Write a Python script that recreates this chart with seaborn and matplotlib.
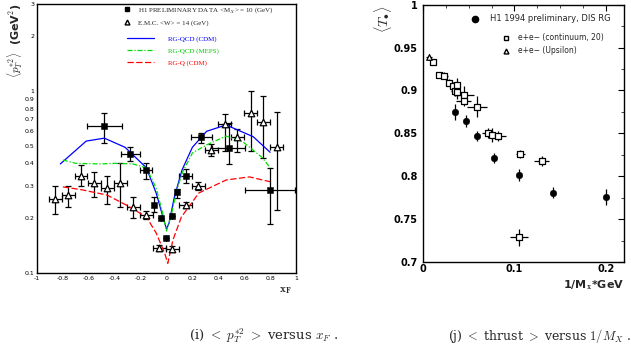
import numpy as np
import pandas as pd
import matplotlib
matplotlib.use('Agg')
import matplotlib.pyplot as plt
import seaborn as sns
from matplotlib.lines import Line2D
from matplotlib.ticker import FixedLocator, NullLocator, MultipleLocator, FixedFormatter

sns.set_theme(style='white')
plt.rcParams['font.family'] = ['DejaVu Sans']
plt.rcParams['mathtext.fontset'] = 'cm'

# ---- left panel: <pT*2> versus xF ----
h1_x = [-0.48, -0.28, -0.16, -0.093, -0.046, 0.0, 0.04, 0.085, 0.15, 0.27, 0.48, 0.80]
h1_y = [0.64, 0.45, 0.37, 0.236, 0.20, 0.156, 0.206, 0.279, 0.341, 0.559, 0.486, 0.286]
h1_xerr = [0.135, 0.075, 0.045, 0, 0, 0, 0, 0, 0.05, 0.08, 0.13, 0.195]
h1_ylo = [0.12, 0.04, 0.04, 0.02, 0, 0, 0, 0.02, 0.03, 0.04, 0.09, 0.10]
h1_yhi = [0.12, 0.04, 0.03, 0.025, 0, 0, 0, 0.01, 0.03, 0.03, 0.18, 0.09]

emc_x = [-0.857, -0.757, -0.66, -0.556, -0.456, -0.356, -0.255, -0.155, -0.054,
         0.046, 0.147, 0.247, 0.347, 0.448, 0.548, 0.649, 0.749, 0.85]
emc_y = [0.255, 0.268, 0.341, 0.312, 0.293, 0.312, 0.23, 0.208, 0.137,
         0.135, 0.236, 0.30, 0.474, 0.659, 0.559, 0.757, 0.676, 0.492]
emc_ylo = [0.045, 0.038, 0.041, 0.052, 0.053, 0.082, 0.03, 0.01, 0.005,
           0.005, 0.01, 0.015, 0.034, 0.19, 0.10, 0.29, 0.25, 0.27]
emc_yhi = [0.045, 0.032, 0.049, 0.048, 0.047, 0.088, 0.03, 0.01, 0.005,
           0.005, 0.01, 0.015, 0.036, 0.09, 0.06, 0.24, 0.26, 0.27]
emc_xerr = 0.05

cdm_x = [-0.82, -0.62, -0.48, -0.32, -0.155, -0.08, -0.02, 0.0, 0.02, 0.06, 0.12, 0.2, 0.31, 0.46, 0.67, 0.8]
cdm_y = [0.397, 0.53, 0.55, 0.49, 0.378, 0.275, 0.195, 0.174, 0.188, 0.26, 0.368, 0.49, 0.60, 0.65, 0.56, 0.46]
meps_x = [-0.8, -0.7, -0.52, -0.39, -0.26, -0.155, -0.08, -0.03, 0.0, 0.04, 0.08, 0.125, 0.2, 0.31, 0.46, 0.59, 0.74, 0.8]
meps_y = [0.417, 0.40, 0.397, 0.40, 0.397, 0.378, 0.293, 0.213, 0.17, 0.213, 0.286, 0.359, 0.456, 0.505, 0.565, 0.525, 0.43, 0.378]
rgq_x = [-0.8, -0.65, -0.46, -0.31, -0.155, -0.08, -0.015, 0.01, 0.05, 0.115, 0.25, 0.46, 0.64, 0.8]
rgq_y = [0.297, 0.286, 0.268, 0.236, 0.203, 0.166, 0.129, 0.113, 0.152, 0.203, 0.275, 0.324, 0.337, 0.317]

pt_ticks = [0.1, 0.2, 0.3, 0.4, 0.5, 0.6, 0.7, 0.8, 0.9, 1, 2, 3]
pt_labels = ['0.1', '0.2', '0.3', '0.4', '0.5', '0.6', '0.7', '0.8', '0.9', '1', '2', '3']
xf_ticks = [-1, -0.8, -0.6, -0.4, -0.2, 0, 0.2, 0.4, 0.6, 0.8, 1]
xf_labels = ['-1', '-0.8', '-0.6', '-0.4', '-0.2', '0', '0.2', '0.4', '0.6', '0.8', '1']

# ---- right panel: <thrust> versus 1/MX ----
dis_x = [0.0348, 0.0467, 0.0587, 0.0772, 0.1054, 0.142, 0.2]
dis_y = [0.875, 0.864, 0.847, 0.821, 0.8015, 0.781, 0.776]
dis_yerr = [0.009, 0.007, 0.006, 0.006, 0.007, 0.006, 0.009]

cont_x = [0.011, 0.018, 0.023, 0.028, 0.0326, 0.035, 0.037, 0.037, 0.0446, 0.0446,
          0.0587, 0.0707, 0.076, 0.0826, 0.1065, 0.130, 0.1054]
cont_y = [0.933, 0.918, 0.917, 0.909, 0.905, 0.899, 0.906, 0.898, 0.895, 0.888,
          0.881, 0.850, 0.848, 0.847, 0.826, 0.818, 0.729]
cont_xerr = [0.002, 0.003, 0.004, 0.003, 0.003, 0.004, 0.004, 0.004, 0.011, 0.008,
             0.011, 0.006, 0.005, 0.008, 0.005, 0.008, 0.010]
cont_yerr = [0.002, 0.002, 0.004, 0.004, 0.005, 0.006, 0.008, 0.008, 0.010, 0.006,
             0.012, 0.006, 0.008, 0.006, 0.005, 0.006, 0.010]

ups_x = [0.0065]
ups_y = [0.939]
ups_xerr = [0.003]
ups_yerr = [0.004]

thrust_ticks = [0.7, 0.75, 0.8, 0.85, 0.9, 0.95, 1.0]
thrust_labels = ['0.7', '0.75', '0.8', '0.85', '0.9', '0.95', '1']

GREEN = '#00e000'

fig = plt.figure(figsize=(6.31, 3.59), dpi=100)

# left axes
ax1 = fig.add_axes([0.0586, 0.2396, 0.4105, 0.7493])
ax1.errorbar(h1_x, h1_y, xerr=h1_xerr, yerr=[h1_ylo, h1_yhi], fmt='none',
             ecolor='black', elinewidth=0.9, capsize=2, capthick=0.9, zorder=2)
ax1.errorbar(emc_x, emc_y, xerr=emc_xerr, yerr=[emc_ylo, emc_yhi], fmt='none',
             ecolor='black', elinewidth=0.9, capsize=2, capthick=0.9, zorder=2)
sns.lineplot(x=cdm_x, y=cdm_y, color='blue', lw=0.9, sort=False, ax=ax1, zorder=3)
sns.lineplot(x=meps_x, y=meps_y, color=GREEN, lw=0.9, sort=False, ax=ax1, zorder=3,
             linestyle=(0, (4, 1.5, 1, 1.5)))
sns.lineplot(x=rgq_x, y=rgq_y, color='red', lw=0.9, sort=False, ax=ax1, zorder=3,
             linestyle=(0, (5, 2)))
sns.scatterplot(x=h1_x, y=h1_y, marker='s', color='black', edgecolor='black', s=22,
                ax=ax1, zorder=4)
sns.scatterplot(x=emc_x, y=emc_y, marker='^', color='white', edgecolor='black',
                linewidth=0.9, s=22, ax=ax1, zorder=4)

ax1.set_yscale('log')
ax1.set_xlim(-1, 1)
ax1.set_ylim(0.1, 3)
ax1.yaxis.set_major_locator(FixedLocator(pt_ticks))
ax1.yaxis.set_major_formatter(FixedFormatter(pt_labels))
ax1.yaxis.set_minor_locator(NullLocator())
ax1.xaxis.set_major_locator(FixedLocator(xf_ticks))
ax1.xaxis.set_major_formatter(FixedFormatter(xf_labels))
ax1.xaxis.set_minor_locator(MultipleLocator(0.05))
ax1.tick_params(axis='both', which='major', direction='in', length=4, width=0.8,
                labelsize=4.5, pad=2, colors='black')
ax1.tick_params(axis='x', which='minor', direction='in', length=2, width=0.6)
for sp in ax1.spines.values():
    sp.set_color('black')
    sp.set_linewidth(1.0)

leg1 = ax1.legend(handles=[Line2D([], [], marker='s', color='black', ls='none', markersize=3.5),
                           Line2D([], [], marker='^', color='black', mfc='white', ls='none', markersize=3.5)],
                  labels=['H1 PRELIMINARY DATA <M$_X$> = 10 (GeV)', 'E.M.C. <W> = 14 (GeV)'],
                  loc='upper left', bbox_to_anchor=(0.31, 1.005), frameon=False,
                  prop={'family': 'Liberation Serif', 'size': 5}, handletextpad=0.6,
                  labelspacing=0.6, borderaxespad=0)
ax1.add_artist(leg1)
ax1.legend(handles=[Line2D([], [], color='blue', lw=0.9),
                    Line2D([], [], color=GREEN, lw=0.9, ls=(0, (4, 1.5, 1, 1.5))),
                    Line2D([], [], color='red', lw=0.9, ls=(0, (5, 2)))],
           labels=['RG-QCD (CDM)', 'RG-QCD (MEPS)', 'RG-Q (CDM)'],
           loc='upper left', bbox_to_anchor=(0.335, 0.893), frameon=False,
           prop={'family': 'Liberation Serif', 'size': 5}, handlelength=3.9,
           handletextpad=2.0, labelspacing=0.85, borderaxespad=0,
           labelcolor=['blue', '#00cc00', 'red'])

fig.text(0.024, 0.99, r'$\langle p_T^{*2} \rangle$  (GeV$^2$)', rotation=90,
         ha='center', va='top', fontsize=8, fontweight='bold')
fig.text(0.452, 0.19, r'$\mathbf{x_F}$', ha='center', va='center', fontsize=8)

# right axes
ax2 = fig.add_axes([0.6704, 0.2702, 0.3185, 0.7167])
ax2.errorbar(dis_x, dis_y, yerr=dis_yerr, fmt='none', ecolor='black', elinewidth=0.9, zorder=2)
ax2.errorbar(cont_x, cont_y, xerr=cont_xerr, yerr=cont_yerr, fmt='none', ecolor='black',
             elinewidth=0.9, zorder=2)
ax2.errorbar(ups_x, ups_y, xerr=ups_xerr, yerr=ups_yerr, fmt='none', ecolor='black',
             elinewidth=0.9, zorder=2)
sns.scatterplot(x=dis_x, y=dis_y, marker='o', color='black', edgecolor='black', s=22,
                ax=ax2, zorder=4)
sns.scatterplot(x=cont_x, y=cont_y, marker='s', color='white', edgecolor='black',
                linewidth=0.9, s=14, ax=ax2, zorder=4)
sns.scatterplot(x=ups_x, y=ups_y, marker='^', color='white', edgecolor='black',
                linewidth=0.9, s=16, ax=ax2, zorder=4)

ax2.set_xlim(0, 0.22)
ax2.set_ylim(0.7, 1.0)
ax2.xaxis.set_major_locator(FixedLocator([0, 0.1, 0.2]))
ax2.xaxis.set_major_formatter(FixedFormatter(['0', '0.1', '0.2']))
ax2.xaxis.set_minor_locator(MultipleLocator(0.025))
ax2.yaxis.set_major_locator(FixedLocator(thrust_ticks))
ax2.yaxis.set_major_formatter(FixedFormatter(thrust_labels))
ax2.yaxis.set_minor_locator(MultipleLocator(0.025))
ax2.tick_params(axis='both', which='major', direction='in', length=4, width=0.8,
                labelsize=7, top=True, right=True, colors='black')
ax2.tick_params(axis='x', which='major', pad=1.5)
ax2.tick_params(axis='y', which='major', pad=4)
ax2.tick_params(axis='both', which='minor', direction='in', length=2.5, width=0.6,
                top=True, right=True)
for lab in ax2.get_xticklabels() + ax2.get_yticklabels():
    lab.set_fontweight('bold')
for sp in ax2.spines.values():
    sp.set_color('black')
    sp.set_linewidth(1.0)

leg3 = ax2.legend(handles=[Line2D([], [], marker='o', color='black', ls='none', markersize=4.5)],
                  labels=['H1 1994 preliminary, DIS RG'], loc='upper left',
                  bbox_to_anchor=(0.2, 0.975), frameon=False,
                  prop={'size': 6}, handletextpad=0.8, borderaxespad=0)
ax2.add_artist(leg3)
ax2.legend(handles=[Line2D([], [], marker='s', color='black', mfc='white', ls='none', markersize=3.5),
                    Line2D([], [], marker='^', color='black', mfc='white', ls='none', markersize=3.5)],
           labels=['e+e\u2212 (continuum, 20)', 'e+e\u2212 (Upsilon)'], loc='upper left',
           bbox_to_anchor=(0.36, 0.9), frameon=False, prop={'size': 5.5},
           handletextpad=0.6, labelspacing=0.5, borderaxespad=0)

fig.text(0.607, 0.985, r'$\langle T_{\bullet} \rangle$', rotation=90, ha='center', va='top',
         fontsize=10, fontweight='bold')
fig.text(0.99, 0.205, r'1/M$_\mathbf{x}$*GeV', ha='right', va='center', fontsize=8,
         fontweight='bold')

# captions
fig.text(0.30, 0.064, r'(i) $<\ p_T^{*2}\ >$ versus $x_F$ .', ha='left', va='center',
         fontsize=9.5, family='DejaVu Serif')
fig.text(0.71, 0.064, r'(j) $<$ thrust $>$ versus $1/M_X$ .', ha='left', va='center',
         fontsize=9, family='DejaVu Serif')

fig.savefig('out.png', dpi=100, facecolor='white')
